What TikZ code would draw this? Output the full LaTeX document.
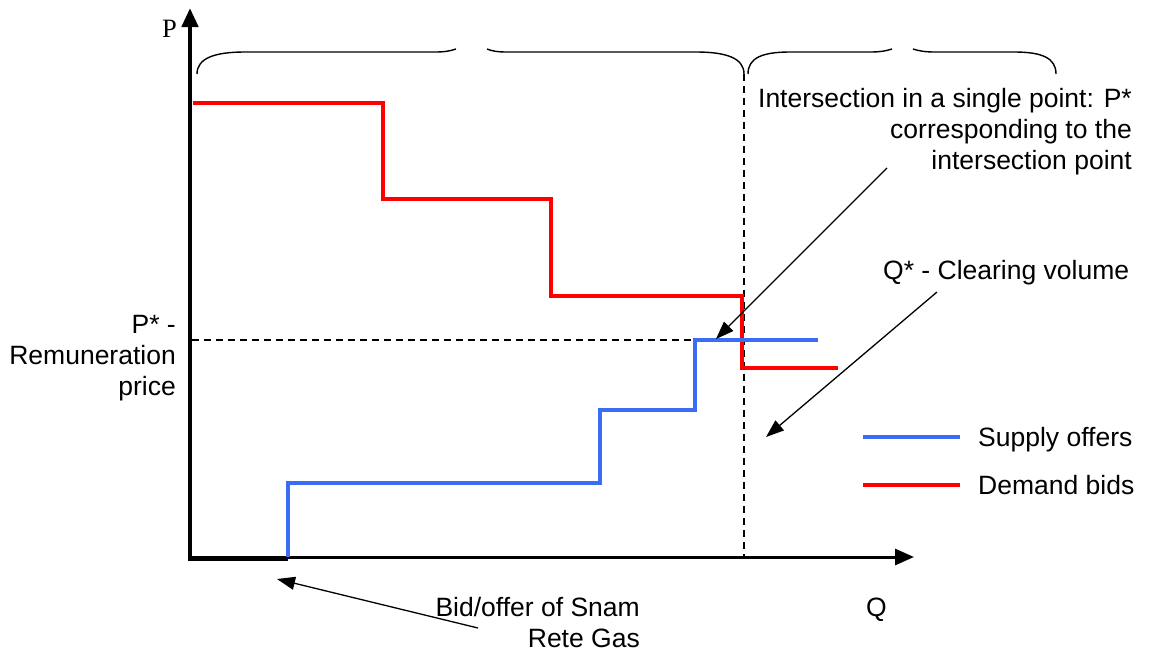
\documentclass[tikz,border=0pt]{standalone}
\usepackage{fontspec}
\setmainfont{Liberation Sans}
\newfontfamily\axisfont{Liberation Serif}
\usetikzlibrary{arrows.meta}
\definecolor{supplyblue}{RGB}{59,108,246}

\begin{document}
\begin{tikzpicture}[x=1pt,y=-1pt,
    lbl/.style={inner sep=0, font=\fontsize{26.5}{31}\selectfont},
    supply/.style={line width=4.5pt, supplyblue},
    demand/.style={line width=4.5pt, red},
    pointer/.style={line width=1.3pt, -{Triangle[length=18pt,width=13pt]}},
    guide/.style={line width=1.2pt, dash pattern=on 7pt off 5pt},
    brace/.style={line width=1.4pt}]
    \useasboundingbox (0,0) rectangle (1150,653);

    % axes
    \coordinate (O) at (190,559);
    \coordinate (ytip) at (190,8);
    \coordinate (xtip) at (914,557);
    \draw[line width=4.5pt, -{Triangle[length=19pt,width=16pt]}] (O) -- (ytip);
    \draw[line width=3pt, -{Triangle[length=19pt,width=16pt]}] (190,557) -- (xtip);
    \draw[line width=5pt] (188,558) -- (288,558);
    \node[lbl, font=\axisfont\fontsize{26.5}{31}\selectfont, anchor=base west] (P) at (162,37) {P};
    \node[lbl, anchor=base west] (Q) at (866,616) {Q};

    % braces
    \draw[brace] (197,74) .. controls (197,58) and (215,52) .. (245,52) -- (435,52) .. controls (445,52) and (450,51) .. (456,49);
    \draw[brace] (744,74) .. controls (744,58) and (726,52) .. (696,52) -- (507,52) .. controls (497,52) and (492,51) .. (487,49);
    \draw[brace] (748,74) .. controls (748,58) and (762,52) .. (790,52) -- (870,52) .. controls (880,52) and (886,51) .. (892,49);
    \draw[brace] (1056,74) .. controls (1056,58) and (1042,52) .. (1014,52) -- (935,52) .. controls (925,52) and (919,51) .. (913,49);

    % guides
    \draw[guide] (192,340) -- (695,340);
    \draw[guide] (744,74) -- (744,557);

    % curves
    \draw[demand] (193,103) -| (383,199) -| (551,296) -| (742,368) -- (838,368);
    \draw[supply] (288,557) |- (600,483) |- (695,410) |- (818,340);

    % labels
    \node[lbl, anchor=north east, align=right] (isect) at (1132,88)
        {Intersection in a single point: P*\\corresponding to the\\intersection point};
    \node[lbl, anchor=base west] (qstar) at (883,279) {Q* - Clearing volume};
    \node[lbl, anchor=north east, align=right] (pstar) at (176,315)
        {P* -\\Remuneration\\price};
    \node[lbl, anchor=north east, align=right] (snam) at (640,597)
        {Bid/offer of Snam\\Rete Gas};

    % pointers
    \coordinate (isecttail) at (887,168);
    \coordinate (isecttip) at (716,339);
    \coordinate (qtail) at (937,292);
    \coordinate (qtip) at (766,437);
    \coordinate (snamtail) at (478,628);
    \coordinate (snamtip) at (277,579);
    \draw[pointer] (isecttail) -- (isecttip);
    \draw[pointer] (qtail) -- (qtip);
    \draw[pointer] (snamtail) -- (snamtip);

    % legend
    \draw[supply] (863,437) -- (960,437);
    \draw[demand] (863,485) -- (960,485);
    \node[lbl, anchor=base west] (supplylbl) at (978,446) {Supply offers};
    \node[lbl, anchor=base west] (demandlbl) at (978,494) {Demand bids};
\end{tikzpicture}
\end{document}
